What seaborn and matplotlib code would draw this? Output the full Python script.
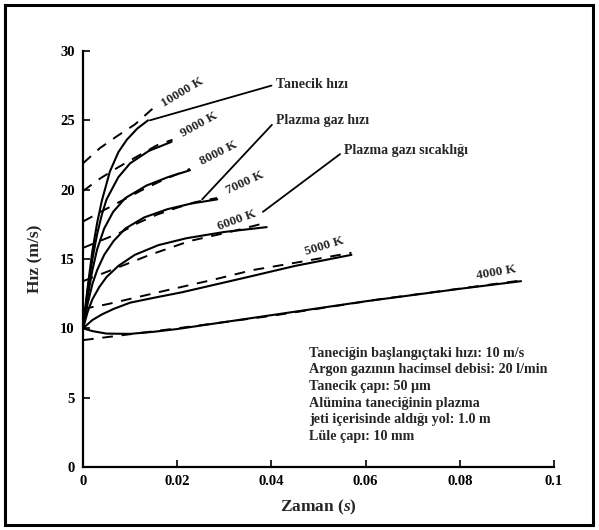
import matplotlib
matplotlib.use("Agg")
import matplotlib.pyplot as plt
import seaborn as sns
import pandas as pd
from matplotlib.patches import Rectangle

# ---------------- data ----------------
temps = ["10000 K", "9000 K", "8000 K", "7000 K", "6000 K", "5000 K", "4000 K"]

# particle velocity (solid)
x_p_10000 = [0, 0.001, 0.002, 0.003, 0.004, 0.0057, 0.0075, 0.0093, 0.0115, 0.0138]
v_p_10000 = [10, 13.0, 15.6, 17.6, 19.2, 21.3, 22.7, 23.6, 24.4, 25.0]
x_p_9000 = [0, 0.001, 0.002, 0.003, 0.004, 0.005, 0.0075, 0.010, 0.014, 0.0188]
v_p_9000 = [10, 12.8, 15.0, 16.8, 18.2, 19.3, 20.9, 21.9, 22.8, 23.45]
x_p_8000 = [0, 0.001, 0.002, 0.003, 0.0045, 0.0064, 0.009, 0.0135, 0.018, 0.0227]
v_p_8000 = [10, 12.3, 14.2, 15.7, 17.2, 18.4, 19.4, 20.3, 20.9, 21.4]
x_p_7000 = [0, 0.001, 0.002, 0.003, 0.0045, 0.0065, 0.009, 0.013, 0.018, 0.023, 0.0285]
v_p_7000 = [10, 11.8, 13.2, 14.2, 15.3, 16.3, 17.2, 18.0, 18.6, 19.0, 19.3]
x_p_6000 = [0, 0.001, 0.002, 0.0035, 0.005, 0.0075, 0.011, 0.016, 0.022, 0.030, 0.039]
v_p_6000 = [10, 11.2, 12.1, 13.0, 13.7, 14.5, 15.3, 16.0, 16.5, 16.95, 17.3]
x_p_5000 = [0, 0.002, 0.004, 0.0065, 0.010, 0.015, 0.021, 0.028, 0.035, 0.045, 0.057]
v_p_5000 = [10, 10.6, 11.0, 11.4, 11.85, 12.2, 12.6, 13.15, 13.7, 14.5, 15.3]
x_p_4000 = [0, 0.002, 0.005, 0.010, 0.015, 0.020, 0.030, 0.040, 0.050, 0.060, 0.070, 0.080, 0.093]
v_p_4000 = [10, 9.8, 9.62, 9.6, 9.75, 9.95, 10.45, 10.95, 11.45, 11.95, 12.4, 12.85, 13.4]

# plasma gas velocity (dashed)
x_g_10000 = [0, 0.0036, 0.0074, 0.011, 0.0153]
v_g_10000 = [21.9, 23.0, 23.9, 24.7, 26.0]
x_g_9000 = [0, 0.0036, 0.0074, 0.011, 0.0157, 0.019]
v_g_9000 = [19.9, 20.8, 21.6, 22.3, 23.2, 23.6]
x_g_8000 = [0, 0.0043, 0.0085, 0.0127, 0.017, 0.0227]
v_g_8000 = [17.7, 18.5, 19.25, 20.0, 20.7, 21.5]
x_g_7000 = [0, 0.0079, 0.0117, 0.0157, 0.020, 0.0238, 0.0285]
v_g_7000 = [15.8, 16.9, 17.6, 18.2, 18.7, 19.1, 19.4]
x_g_6000 = [0, 0.006, 0.0142, 0.0227, 0.0318, 0.0387]
v_g_6000 = [13.4, 14.2, 15.3, 16.3, 17.0, 17.6]
x_g_5000 = [0, 0.0053, 0.0185, 0.0276, 0.036, 0.0446, 0.057]
v_g_5000 = [11.4, 11.75, 12.8, 13.5, 14.2, 14.7, 15.45]
x_g_4000 = [0, 0.020, 0.040, 0.063, 0.093]
v_g_4000 = [9.15, 10.0, 10.9, 12.1, 13.45]

x_ticks = [0, 0.02, 0.04, 0.06, 0.08, 0.1]
x_tick_labels = ["0", "0.02", "0.04", "0.06", "0.08", "0.1"]
y_ticks = [0, 5, 10, 15, 20, 25, 30]

info_lines = [
    "Taneciğin başlangıçtaki hızı: 10 m/s",
    "Argon gazının hacimsel debisi: 20 l/min",
    "Tanecik çapı: 50 μm",
    "Alümina taneciğinin plazma",
    "jeti içerisinde aldığı yol: 1.0 m",
    "Lüle çapı: 10 mm",
]

# ---------------- build tidy frame ----------------
solid = {
    "10000 K": (x_p_10000, v_p_10000), "9000 K": (x_p_9000, v_p_9000),
    "8000 K": (x_p_8000, v_p_8000), "7000 K": (x_p_7000, v_p_7000),
    "6000 K": (x_p_6000, v_p_6000), "5000 K": (x_p_5000, v_p_5000),
    "4000 K": (x_p_4000, v_p_4000),
}
gas = {
    "10000 K": (x_g_10000, v_g_10000), "9000 K": (x_g_9000, v_g_9000),
    "8000 K": (x_g_8000, v_g_8000), "7000 K": (x_g_7000, v_g_7000),
    "6000 K": (x_g_6000, v_g_6000), "5000 K": (x_g_5000, v_g_5000),
    "4000 K": (x_g_4000, v_g_4000),
}

rows = []
for T in temps:
    for x, v in zip(*solid[T]):
        rows.append({"T": T, "kind": "particle", "x": x, "v": v})
    for x, v in zip(*gas[T]):
        rows.append({"T": T, "kind": "gas", "x": x, "v": v})
df = pd.DataFrame(rows)

# ---------------- style ----------------
sns.set_style("ticks")
plt.rcParams["font.family"] = ["Liberation Serif", "DejaVu Serif"]
plt.rcParams["font.weight"] = "bold"
plt.rcParams["mathtext.fontset"] = "custom"
plt.rcParams["mathtext.it"] = "Liberation Serif:italic:bold"
plt.rcParams["mathtext.rm"] = "Liberation Serif:bold"

fig = plt.figure(figsize=(5.99, 5.30), dpi=100)
ax = fig.add_axes([83 / 599, 63 / 530, 471 / 599, 416 / 530])

for T in temps:
    sub = df[(df["T"] == T) & (df["kind"] == "gas")]
    sns.lineplot(data=sub, x="x", y="v", ax=ax, color="black", lw=1.4,
                 estimator=None, sort=False, linestyle=(0, (5.5, 4.5)))
    sub = df[(df["T"] == T) & (df["kind"] == "particle")]
    sns.lineplot(data=sub, x="x", y="v", ax=ax, color="black", lw=1.5,
                 estimator=None, sort=False)

ax.set_xlim(0, 0.1)
ax.set_ylim(0, 30)
ax.set_xticks(x_ticks)
ax.set_xticklabels(x_tick_labels)
ax.set_yticks(y_ticks)
sns.despine(ax=ax)
for s in ["left", "bottom"]:
    ax.spines[s].set_linewidth(1.6)
    ax.spines[s].set_color("black")
ax.tick_params(direction="in", length=5, width=1.2, labelsize=10.5, colors="black", pad=6)
for lab in ax.get_xticklabels() + ax.get_yticklabels():
    lab.set_fontweight("bold")

ax.set_xlabel("Zaman ($\\mathit{s}$)", fontsize=12.5, fontweight="bold", labelpad=7)
ax.set_ylabel("Hız (m/s)", fontsize=12.5, fontweight="bold", labelpad=12)

# temperature labels
lab_pos = {
    "10000 K": (0.0212, 27.0, 31), "9000 K": (0.0246, 24.7, 29),
    "8000 K": (0.0287, 22.6, 27), "7000 K": (0.0344, 20.5, 25),
    "6000 K": (0.0327, 17.8, 20), "5000 K": (0.0512, 15.9, 17),
    "4000 K": (0.0877, 14.05, 10),
}
for T in temps:
    x, y, r = lab_pos[T]
    ax.text(x, y, T, rotation=r, ha="center", va="center", fontsize=9.5,
            fontweight="bold", rotation_mode="anchor")

# annotations
ann = dict(arrowprops=dict(arrowstyle="-", color="black", lw=1.3,
                           shrinkA=1, shrinkB=0, relpos=(0, 0.5)),
           fontsize=10, fontweight="bold", ha="left", va="center")
ax.annotate("Tanecik hızı", xy=(0.0142, 25.0), xytext=(0.0410, 27.6), **ann)
ax.annotate("Plazma gaz hızı", xy=(0.0253, 19.3), xytext=(0.0410, 25.0), **ann)
ax.annotate("Plazma gazı sıcaklığı", xy=(0.0382, 18.4), xytext=(0.0555, 22.8), **ann)

# info block
y0 = 353
for i, line in enumerate(info_lines):
    fig.text(309 / 599, 1 - (y0 + i * 16.7) / 530, line, fontsize=10.2,
             fontweight="bold", ha="left", va="center")

# outer frame
fig.patches.append(Rectangle((5 / 599, 5 / 530), 588 / 599, 520 / 530,
                             transform=fig.transFigure, fill=False,
                             edgecolor="black", lw=2.2))

fig.savefig("out.png", dpi=100)
